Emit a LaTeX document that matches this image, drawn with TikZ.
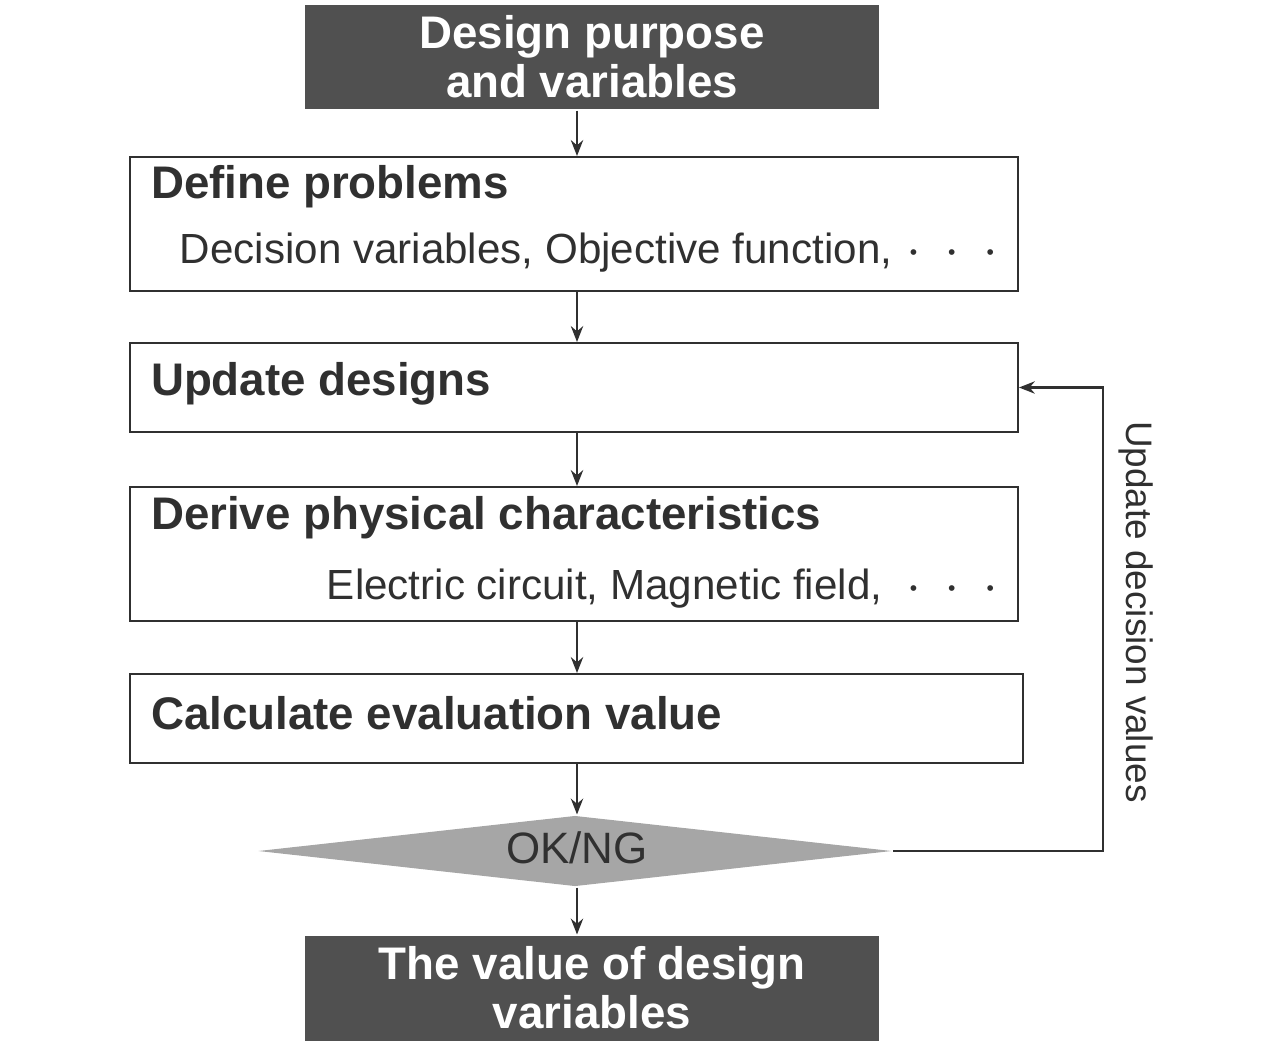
\documentclass[tikz,border=0pt]{standalone}
\usepackage{fontspec}
\setmainfont{Liberation Sans}
\usetikzlibrary{shapes.geometric,arrows.meta,positioning}
\definecolor{darkbox}{HTML}{505050}
\definecolor{diagray}{HTML}{A6A6A6}
\definecolor{linegray}{HTML}{303030}
\begin{document}
\begin{tikzpicture}[x=0.02cm,y=-0.02cm, line width=1.2pt, draw=linegray,
    terminal/.style={rectangle, fill=darkbox, text=white, font=\fontsize{26}{28}\selectfont\bfseries,
      minimum width=11.5cm, minimum height=2.1cm, align=center, inner sep=0pt},
    stepbox/.style={rectangle, draw=linegray, line width=1.2pt, inner sep=0pt},
    title/.style={font=\fontsize{26}{30}\selectfont\bfseries, text=linegray, anchor=west, inner sep=0pt},
    sub/.style={font=\fontsize{24}{28}\selectfont, text=linegray, anchor=east, inner sep=0pt},
    line/.style={draw=linegray, -{Stealth[length=9pt,width=7pt]}}]
  \useasboundingbox (0,0) rectangle (1284,1048);
  \newcommand{\dotsrow}{\hspace{0.35cm}\raisebox{0.2ex}{\scalebox{0.5}{\textbullet}}\hspace{0.62cm}\raisebox{0.2ex}{\scalebox{0.5}{\textbullet}}\hspace{0.62cm}\raisebox{0.2ex}{\scalebox{0.5}{\textbullet}}}

  % Place nodes
  \node [terminal] (start) at (592,57) {Design purpose\\and variables};
  \node [stepbox, minimum width=17.76cm, minimum height=2.68cm] (define) at (574,224) {};
  \node [title] at (150,187) {Define problems};
  \node [sub] at (995,253) {Decision variables, Objective function,\dotsrow};
  \node [stepbox, minimum width=17.76cm, minimum height=1.78cm] (update) at (574,387.5) {};
  \node [title] at (150,384) {Update designs};
  \node [stepbox, minimum width=17.76cm, minimum height=2.68cm] (derive) at (574,554) {};
  \node [title] at (150,518) {Derive physical characteristics};
  \node [sub] at (995,589) {Electric circuit, Magnetic field,\hspace{0.2cm}\dotsrow};
  \node [stepbox, minimum width=17.86cm, minimum height=1.78cm] (calc) at (576.5,718.5) {};
  \node [title] at (150,713) {Calculate evaluation value};
  \node [diamond, fill=diagray, minimum width=12.68cm, minimum height=1.42cm, inner sep=0pt] (check) at (575,851) {};
  \node [font=\fontsize{25}{28}\selectfont, text=linegray] at (577,848) {OK/NG};
  \node [terminal] (stop) at (592,988) {The value of design\\variables};
  \coordinate (turn) at (1103,851);
  \node [rotate=-90, font=\fontsize{21}{24}\selectfont, text=linegray] at (1136,612) {Update decision values};

  % Draw edges
  \path [line] (start.south -| 577,0) -- (define.north -| 577,0);
  \path [line] (define.south -| 577,0) -- (update.north -| 577,0);
  \path [line] (update.south -| 577,0) -- (derive.north -| 577,0);
  \path [line] (derive.south -| 577,0) -- (calc.north -| 577,0);
  \path [line] (calc.south -| 577,0) -- (check.north -| 577,0);
  \path [line] (check.south -| 577,0) -- (stop.north -| 577,0);
  \path [line] (check.east) -- (turn) |- (update.east);
\end{tikzpicture}
\end{document}
